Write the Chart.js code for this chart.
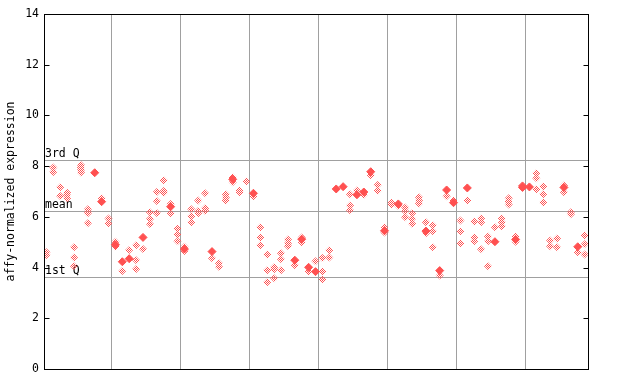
<!DOCTYPE html>
<html lang="en">
<head>
<meta charset="UTF-8">
<title>affy-normalized expression</title>
<script src="https://cdn.jsdelivr.net/npm/chart.js"></script>
<style>
  html, body { margin: 0; padding: 0; background: #fff; }
</style>
</head>
<body>
<canvas id="myChart" width="640" height="384"></canvas>
<script>
// y axis ticks and group separators (sample index between groups)
const yTicks = [0, 2, 4, 6, 8, 10, 12, 14];
const groupBreaks = [9.5, 19.5, 29.5, 39.5, 49.5, 59.5, 69.5];

// reference lines
const quartileLabels = ['3rd Q', 'mean', '1st Q'];
const quartileValues = [8.24, 6.22, 3.62];

// values per sample
const openValues = [
  [4.6, 4.5], [7.95, 7.77], [7.17, 6.82], [6.95, 6.85, 6.73], [4.8, 4.4, 4.05],
  [8.05, 7.95, 7.85, 7.75], [6.3, 6.2, 6.14, 5.75], [], [6.73], [5.94, 5.75],
  [5.02, 4.82], [3.86], [4.69], [4.88, 4.29, 3.94], [4.73],
  [6.18, 5.92, 5.72], [6.98, 6.63, 6.15], [7.44, 7.02, 6.95], [6.51, 6.14], [5.53, 5.31, 5.04],
  [4.82, 4.65], [6.3, 6.02, 5.79], [6.65, 6.23, 6.14], [6.93, 6.34, 6.24], [4.37],
  [4.17, 4.03], [6.89, 6.76, 6.65], [7.56, 7.36], [7.04, 6.97], [7.4],
  [6.81], [5.59, 5.19, 4.88], [4.52, 3.89, 3.42], [4.01, 3.93, 3.58], [4.56, 4.33, 3.89],
  [5.11, 4.96, 4.85], [4.09], [5.19, 5.0], [3.85], [4.25],
  [4.38, 3.85, 3.54], [4.68, 4.4], [], [], [6.89, 6.45, 6.26],
  [7.04], [6.87], [7.64], [7.26, 7.03], [5.59, 5.38],
  [6.56, 6.49], [6.43], [6.37, 6.22, 5.98], [6.14, 5.93, 5.73], [6.77, 6.65, 6.53],
  [5.79, 5.35], [5.67, 5.43, 4.8], [3.69], [6.81], [6.65],
  [5.86, 5.43, 4.96], [6.65], [5.82, 5.19, 5.04], [5.94, 5.79, 4.72], [5.23, 5.04, 4.05],
  [5.59], [5.94, 5.79, 5.63], [6.73, 6.61, 6.49], [5.23, 5.02], [],
  [], [7.72, 7.52, 7.09], [7.2, 6.89, 6.57], [5.07, 4.84], [5.15, 4.8],
  [7.24, 6.97], [6.18, 6.1], [4.6], [5.27, 4.92, 4.52]
];

const filledValues = [
  [], [], [], [], [],
  [], [], [7.74], [6.6], [],
  [4.9], [4.23], [4.35], [], [5.19],
  [], [], [], [6.4], [],
  [4.73], [], [], [], [4.63],
  [], [], [7.48], [], [],
  [6.93], [], [], [], [],
  [], [4.29], [5.12], [4.01], [3.84],
  [], [], [7.10], [7.19], [],
  [6.87], [6.98], [7.78], [], [5.45],
  [], [6.51], [], [], [],
  [5.44], [], [3.88], [7.06], [6.56],
  [], [7.14], [], [], [],
  [5.02], [], [], [5.11], [7.22, 7.16],
  [7.18], [], [], [], [],
  [7.16], [], [4.82], []
];

const red = 'rgb(255,80,80)';
const monoFont = '"DejaVu Sans Mono", monospace';

function toPoints(list) {
  const pts = [];
  list.forEach((vals, i) => vals.forEach(v => pts.push({x: i, y: v})));
  return pts;
}

// checkered fill like the original bitmap markers
const pc = document.createElement('canvas');
pc.width = 2; pc.height = 2;
const pctx = pc.getContext('2d');
pctx.fillStyle = red;
pctx.fillRect(0, 0, 1, 1);
pctx.fillRect(1, 1, 1, 1);
const checker = document.getElementById('myChart').getContext('2d').createPattern(pc, 'repeat');

const decorations = {
  id: 'decorations',
  beforeDatasetsDraw(chart) {
    const {ctx, chartArea: a, scales: {y}} = chart;
    ctx.save();
    ctx.strokeStyle = '#a0a0a0';
    ctx.lineWidth = 1;
    ctx.font = '11.5px ' + monoFont;
    ctx.fillStyle = '#000';
    ctx.textBaseline = 'bottom';
    quartileValues.forEach((v, i) => {
      const py = Math.round(y.getPixelForValue(v)) + 0.5;
      ctx.beginPath();
      ctx.moveTo(a.left, py);
      ctx.lineTo(a.right, py);
      ctx.stroke();
      ctx.fillText(quartileLabels[i], a.left + 1, py - 1);
    });
    ctx.restore();
  },
  afterDraw(chart) {
    const {ctx, chartArea: a, scales: {y}} = chart;
    ctx.save();
    ctx.strokeStyle = '#000';
    ctx.lineWidth = 1;
    const l = Math.round(a.left) + 0.5, r = Math.round(a.right) + 0.5;
    const t = Math.round(a.top) + 0.5, b = Math.round(a.bottom) + 0.5;
    ctx.strokeRect(l, t, r - l, b - t);
    yTicks.forEach(v => {
      const py = Math.round(y.getPixelForValue(v)) + 0.5;
      ctx.beginPath();
      ctx.moveTo(l, py); ctx.lineTo(l + 5, py);
      ctx.moveTo(r, py); ctx.lineTo(r - 5, py);
      ctx.stroke();
    });
    ctx.restore();
  }
};

const ctx = document.getElementById('myChart').getContext('2d');
const myChart = new Chart(ctx, {
  type: 'scatter',
  data: {
    datasets: [{
      label: 'samples',
      data: toPoints(openValues),
      pointStyle: 'rectRot',
      pointRadius: 4,
      backgroundColor: checker,
      borderWidth: 0
    }, {
      label: 'filled',
      data: toPoints(filledValues),
      pointStyle: 'rectRot',
      pointRadius: 4,
      backgroundColor: red,
      borderColor: red,
      borderWidth: 1
    }]
  },
  options: {
    responsive: false,
    animation: false,
    layout: { padding: { left: 0, right: 52, top: 14, bottom: 15 } },
    plugins: {
      legend: { display: false },
      tooltip: { enabled: false }
    },
    scales: {
      x: {
        type: 'linear',
        min: -0.35,
        max: 78.49,
        afterBuildTicks: scale => { scale.ticks = groupBreaks.map(v => ({value: v})); },
        afterFit: scale => { scale.height = 0; },
        ticks: { display: false },
        grid: { color: '#a0a0a0', drawTicks: false },
        border: { display: false }
      },
      y: {
        min: 0,
        max: 14,
        afterBuildTicks: scale => { scale.ticks = yTicks.map(v => ({value: v})); },
        afterFit: scale => { scale.width = 44; },
        ticks: { color: '#000', font: { family: monoFont, size: 11.5 }, padding: 5 },
        grid: { display: false, drawTicks: false },
        border: { display: false },
        title: {
          display: true,
          text: 'affy-normalized expression',
          color: '#000',
          font: { family: monoFont, size: 11.5 },
          padding: { top: 4, bottom: 0 }
        }
      }
    }
  },
  plugins: [decorations]
});
</script>
</body>
</html>
